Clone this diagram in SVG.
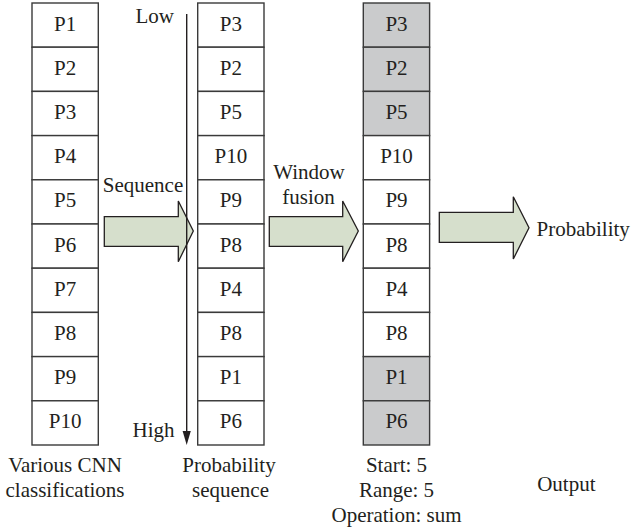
<svg xmlns="http://www.w3.org/2000/svg" width="631" height="531" viewBox="0 0 631 531">
<style>
text{font-family:"Liberation Serif","Times New Roman",serif;font-size:21px;fill:#231f20}
.c{text-anchor:middle}
.w{fill:#ffffff;stroke:#3a3a3a;stroke-width:1.4}
.g{fill:#cacbcc;stroke:#3a3a3a;stroke-width:1.4}
.ar{fill:#d6dfcc;stroke:#231f20;stroke-width:1.3;stroke-linejoin:miter}
</style>
<rect width="631" height="531" fill="#ffffff"/>
<g id="col1">
<rect class="w" x="32" y="3" width="66.3" height="44.2"/><text class="c" x="65.2" y="30.5">P1</text>
<rect class="w" x="32" y="47.2" width="66.3" height="44.2"/><text class="c" x="65.2" y="74.7">P2</text>
<rect class="w" x="32" y="91.4" width="66.3" height="44.2"/><text class="c" x="65.2" y="118.9">P3</text>
<rect class="w" x="32" y="135.6" width="66.3" height="44.2"/><text class="c" x="65.2" y="163.1">P4</text>
<rect class="w" x="32" y="179.8" width="66.3" height="44.2"/><text class="c" x="65.2" y="207.3">P5</text>
<rect class="w" x="32" y="224" width="66.3" height="44.2"/><text class="c" x="65.2" y="251.5">P6</text>
<rect class="w" x="32" y="268.2" width="66.3" height="44.2"/><text class="c" x="65.2" y="295.7">P7</text>
<rect class="w" x="32" y="312.4" width="66.3" height="44.2"/><text class="c" x="65.2" y="339.9">P8</text>
<rect class="w" x="32" y="356.6" width="66.3" height="44.2"/><text class="c" x="65.2" y="384.1">P9</text>
<rect class="w" x="32" y="400.8" width="66.3" height="44.2"/><text class="c" x="65.2" y="428.3">P10</text>
</g>
<g id="col2">
<rect class="w" x="197.7" y="3" width="66.3" height="44.2"/><text class="c" x="230.9" y="30.5">P3</text>
<rect class="w" x="197.7" y="47.2" width="66.3" height="44.2"/><text class="c" x="230.9" y="74.7">P2</text>
<rect class="w" x="197.7" y="91.4" width="66.3" height="44.2"/><text class="c" x="230.9" y="118.9">P5</text>
<rect class="w" x="197.7" y="135.6" width="66.3" height="44.2"/><text class="c" x="230.9" y="163.1">P10</text>
<rect class="w" x="197.7" y="179.8" width="66.3" height="44.2"/><text class="c" x="230.9" y="207.3">P9</text>
<rect class="w" x="197.7" y="224" width="66.3" height="44.2"/><text class="c" x="230.9" y="251.5">P8</text>
<rect class="w" x="197.7" y="268.2" width="66.3" height="44.2"/><text class="c" x="230.9" y="295.7">P4</text>
<rect class="w" x="197.7" y="312.4" width="66.3" height="44.2"/><text class="c" x="230.9" y="339.9">P8</text>
<rect class="w" x="197.7" y="356.6" width="66.3" height="44.2"/><text class="c" x="230.9" y="384.1">P1</text>
<rect class="w" x="197.7" y="400.8" width="66.3" height="44.2"/><text class="c" x="230.9" y="428.3">P6</text>
</g>
<g id="col3">
<rect class="g" x="363.3" y="3" width="66.3" height="44.2"/><text class="c" x="396.5" y="30.5">P3</text>
<rect class="g" x="363.3" y="47.2" width="66.3" height="44.2"/><text class="c" x="396.5" y="74.7">P2</text>
<rect class="g" x="363.3" y="91.4" width="66.3" height="44.2"/><text class="c" x="396.5" y="118.9">P5</text>
<rect class="w" x="363.3" y="135.6" width="66.3" height="44.2"/><text class="c" x="396.5" y="163.1">P10</text>
<rect class="w" x="363.3" y="179.8" width="66.3" height="44.2"/><text class="c" x="396.5" y="207.3">P9</text>
<rect class="w" x="363.3" y="224" width="66.3" height="44.2"/><text class="c" x="396.5" y="251.5">P8</text>
<rect class="w" x="363.3" y="268.2" width="66.3" height="44.2"/><text class="c" x="396.5" y="295.7">P4</text>
<rect class="w" x="363.3" y="312.4" width="66.3" height="44.2"/><text class="c" x="396.5" y="339.9">P8</text>
<rect class="g" x="363.3" y="356.6" width="66.3" height="44.2"/><text class="c" x="396.5" y="384.1">P1</text>
<rect class="g" x="363.3" y="400.8" width="66.3" height="44.2"/><text class="c" x="396.5" y="428.3">P6</text>
</g>
<g id="connectors">
<polygon class="ar" points="104.3,216.7 178.3,216.7 178.3,201 193.3,231 178.3,261.7 178.3,246.3 104.3,246.3"/>
<polygon class="ar" points="269.3,216.7 342.7,216.7 342.7,201 358.3,231 342.7,261.7 342.7,246.3 269.3,246.3"/>
<polygon class="ar" points="439.3,212.3 513.3,212.3 513.3,196.7 529,227.7 513.3,259 513.3,242.3 439.3,242.3"/>
<line x1="186.7" y1="14" x2="186.7" y2="432" stroke="#231f20" stroke-width="1.4"/>
<polygon points="182.6,431 190.8,431 186.7,445" fill="#231f20"/>
</g>
<g id="labels">
<text x="174" y="23" text-anchor="end">Low</text>
<text x="174.5" y="437" text-anchor="end">High</text>
<text class="c" x="143" y="192">Sequence</text>
<text class="c" x="309" y="179">Window</text>
<text class="c" x="308.5" y="204">fusion</text>
<text x="536.5" y="236">Probability</text>
<text class="c" x="65" y="472">Various CNN</text>
<text class="c" x="65" y="497">classifications</text>
<text class="c" x="229" y="472">Probability</text>
<text class="c" x="230.5" y="497">sequence</text>
<text class="c" x="396.5" y="472">Start: 5</text>
<text class="c" x="396.5" y="497">Range: 5</text>
<text class="c" x="396.5" y="522">Operation: sum</text>
<text class="c" x="566.3" y="491">Output</text>
</g>
</svg>
